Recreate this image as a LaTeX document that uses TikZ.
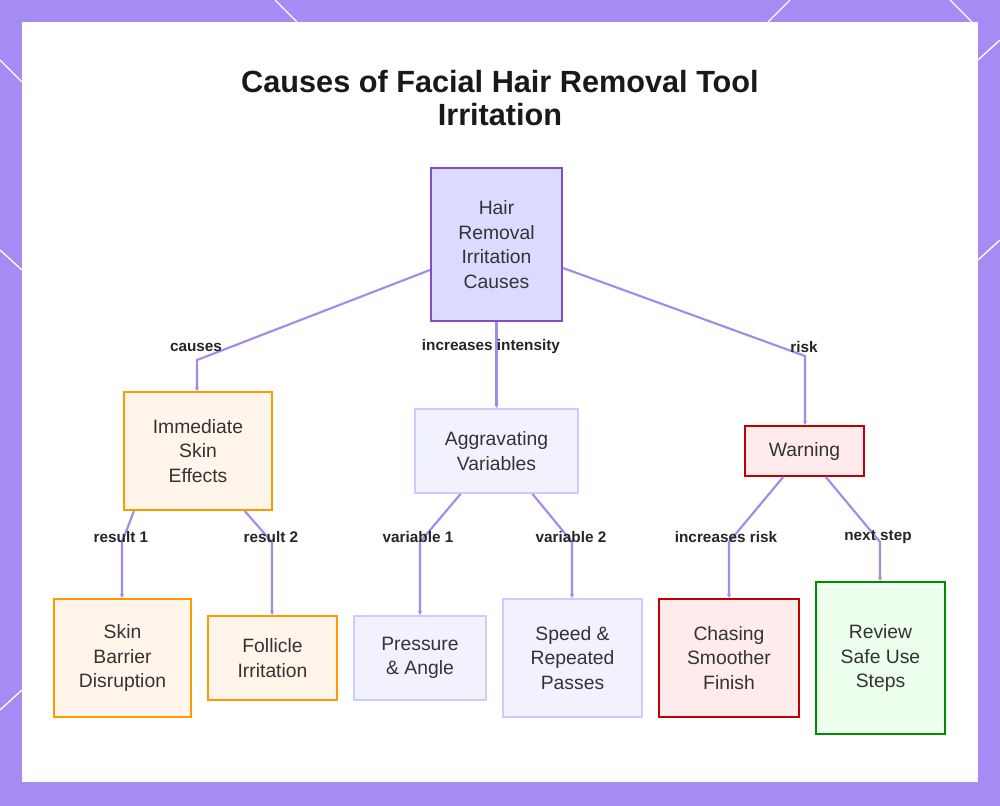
\documentclass[tikz,border=0pt]{standalone}
\usepackage{fontspec}
\setmainfont{Liberation Sans}
\usetikzlibrary{arrows.meta}
\definecolor{frame}{HTML}{A78BF5}
\definecolor{edge}{HTML}{A58AE8}
\definecolor{ink}{HTML}{333333}
\tikzset{
  box/.style={draw,line width=1.4pt,align=center,inner sep=0pt,text=ink,font=\fontsize{14.5}{18.5}\selectfont},
  blue/.style={box,fill=blue!14,draw=blue!45!violet!70},
  pale/.style={box,fill=blue!5,draw=blue!20},
  orange/.style={box,fill=orange!8,draw=orange!80!yellow},
  red/.style={box,fill=red!8,draw=red!75!black},
  green/.style={box,fill=green!7,draw=green!55!black},
  conn/.style={draw=edge,line width=1.6pt,-{Stealth[length=3pt,width=3pt]}},
  lbl/.style={font=\bfseries\fontsize{11.5}{13}\selectfont,text=black!85,inner sep=1pt}
}
\newcommand{\mybox}[6]{\node[#1,minimum width=#4*0.75pt-1.4pt,minimum height=#5*0.75pt-1.4pt] (#2) at (#3) {#6};}
\begin{document}
\begin{tikzpicture}[x=0.75pt,y=-0.75pt]
\fill[frame] (0,0) rectangle (1000,806);
\fill[white] (22,22) rectangle (978,782);
\useasboundingbox (0,0) rectangle (1000,806);
% decorative corner strokes
\foreach \a/\b in {{0,60}/{22,82},{0,250}/{22,270},{275,0}/{297,22},{790,0}/{768,22},{950,0}/{972,22},{978,60}/{1000,40},{978,260}/{1000,240},{0,710}/{22,690}}
  \draw[white,line width=1pt] (\a) -- (\b);

\node[font=\bfseries\fontsize{23}{25}\selectfont,align=center,text=black!90] (title) at (500,98) {Causes of Facial Hair Removal Tool\\Irritation};

\mybox{blue}{root}{496.5,244.5}{133}{155}{Hair\\Removal\\Irritation\\Causes}
\mybox{orange}{imm}{198,451}{150}{120}{Immediate\\Skin\\Effects}
\mybox{pale}{agg}{496.5,451}{165}{86}{Aggravating\\Variables}
\mybox{red}{warn}{804.5,451}{121}{52}{Warning}
\mybox{orange}{skin}{122.5,658}{139}{120}{Skin\\Barrier\\Disruption}
\mybox{orange}{foll}{272.5,658}{131}{86}{Follicle\\Irritation}
\mybox{pale}{press}{420,658}{134}{86}{Pressure\\\& Angle}
\mybox{pale}{speed}{572.5,658}{141}{120}{Speed \&\\Repeated\\Passes}
\mybox{red}{chase}{729,658}{142}{120}{Chasing\\Smoother\\Finish}
\mybox{green}{rev}{880.5,658}{131}{154}{Review\\Safe Use\\Steps}

\coordinate (k1) at (197,360);
\coordinate (k2) at (805,356);
\coordinate (k3) at (122,542);
\coordinate (k4) at (272,542);
\coordinate (k5) at (420,542);
\coordinate (k6) at (572,542);
\coordinate (k7) at (729,542);
\coordinate (k8) at (880,542);

\draw[conn] (root.west |- 0,270) -- (k1) -- (imm.north -| k1);
\draw[conn] (root.south) -- (agg.north);
\draw[conn] (root.east |- 0,268) -- (k2) -- (warn.north -| k2);
\draw[conn] ([xshift=-48pt]imm.south) -- (k3) -- (skin.north -| k3);
\draw[conn] ([xshift=35pt]imm.south) -- (k4) -- (foll.north -| k4);
\draw[conn] ([xshift=-27pt]agg.south) -- (k5) -- (press.north -| k5);
\draw[conn] ([xshift=27pt]agg.south) -- (k6) -- (speed.north -| k6);
\draw[conn] ([xshift=-16pt]warn.south) -- (k7) -- (chase.north -| k7);
\draw[conn] ([xshift=16pt]warn.south) -- (k8) -- (rev.north -| k8);

\node[lbl] (l1) at (196,347) {causes};
\node[lbl] (l2) at (491,347) {increases intensity};
\node[lbl] (l3) at (804,347) {risk};
\node[lbl] (l4) at (121,537) {result 1};
\node[lbl] (l5) at (271,537) {result 2};
\node[lbl] (l6) at (418,537) {variable 1};
\node[lbl] (l7) at (571,537) {variable 2};
\node[lbl] (l8) at (726,537) {increases risk};
\node[lbl] (l9) at (878,537) {next step};
\end{tikzpicture}
\end{document}
